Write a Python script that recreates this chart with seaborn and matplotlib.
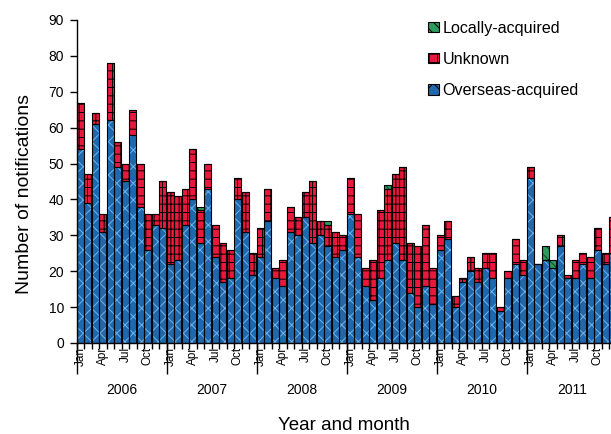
import numpy as np
import pandas as pd
import matplotlib
matplotlib.use("Agg")
import matplotlib.pyplot as plt
import seaborn as sns
from matplotlib.patches import Patch

# monthly notifications, Jan 2006 - Dec 2011
overseas = [54, 39, 61, 31, 62, 49, 45, 58, 38, 26, 33, 32,
            22, 23, 33, 40, 28, 43, 24, 17, 18, 40, 31, 19,
            24, 34, 18, 16, 31, 30, 35, 28, 30, 27, 24, 26,
            36, 24, 16, 12, 18, 23, 28, 23, 14, 10, 16, 11,
            26, 29, 10, 17, 20, 17, 21, 18, 9, 18, 22, 19,
            46, 22, 23, 21, 27, 18, 18, 22, 18, 26, 22, 25]
unknown = [13, 8, 3, 5, 16, 7, 5, 7, 12, 10, 3, 13,
           20, 18, 10, 14, 9, 7, 9, 11, 8, 6, 11, 6,
           8, 9, 3, 7, 7, 5, 7, 17, 4, 6, 7, 4,
           10, 12, 5, 11, 19, 20, 19, 26, 14, 17, 17, 10,
           4, 5, 3, 1, 4, 4, 4, 7, 1, 2, 7, 4,
           3, 0, 0, 0, 3, 1, 5, 3, 6, 6, 3, 10]
local = [0, 0, 0, 0, 0, 0, 0, 0, 0, 0, 0, 0,
         0, 0, 0, 0, 1, 0, 0, 0, 0, 0, 0, 0,
         0, 0, 0, 0, 0, 0, 0, 0, 0, 1, 0, 0,
         0, 0, 0, 0, 0, 1, 0, 0, 0, 0, 0, 0,
         0, 0, 0, 0, 0, 0, 0, 0, 0, 0, 0, 0,
         0, 0, 4, 2, 0, 0, 0, 0, 0, 0, 0, 0]
years = ['2006', '2007', '2008', '2009', '2010', '2011']
month_labels = ['Jan', 'Apr', 'Jul', 'Oct']

df = pd.DataFrame({'month': np.arange(len(overseas)),
                   'overseas': overseas, 'unknown': unknown, 'local': local})
df['bottom_unknown'] = df['overseas']
df['bottom_local'] = df['overseas'] + df['unknown']

blue, blue_hatch = '#1f68ad', '#6cb4ec'
red, red_hatch = '#e8193c', 'black'
green, green_hatch = '#2e9a5e', '#0d4a2a'

sns.set_style('white')
plt.rcParams['font.family'] = ['Liberation Sans', 'DejaVu Sans']
plt.rcParams['hatch.linewidth'] = 0.7
for k in ['text.color', 'axes.labelcolor', 'xtick.color', 'ytick.color']:
    plt.rcParams[k] = 'black'

fig = plt.figure(figsize=(6.11, 4.34), dpi=100)
ax = fig.add_axes([76.7 / 611, 91 / 434, 540 / 611, 323 / 434])

layers = [('overseas', None, blue, blue_hatch, 'xx'),
          ('unknown', 'bottom_unknown', red, red_hatch, '++'),
          ('local', 'bottom_local', green, green_hatch, '\\\\\\')]
w = 0.94
for col, bot, fc, hc, hatch in layers:
    bottom = 0 if bot is None else df[bot]
    # hatched fill (hatch takes the edge colour)
    sns.barplot(data=df, x='month', y=col, bottom=bottom, ax=ax, width=w,
                color=fc, saturation=1, errorbar=None, edgecolor=hc,
                linewidth=0, hatch=hatch, zorder=2)
    # black outline
    sns.barplot(data=df, x='month', y=col, bottom=bottom, ax=ax, width=w,
                color=fc, saturation=1, errorbar=None, facecolor='none',
                edgecolor='black', linewidth=0.8, zorder=3)

ax.set_xlim(-0.5, 71.5)
ax.set_ylim(0, 90)
ax.set_yticks(range(0, 91, 10))
sns.despine(ax=ax)
for s in ['left', 'bottom']:
    ax.spines[s].set_color('black')
    ax.spines[s].set_linewidth(1)

ticks = np.arange(0, 72, 3)
ax.set_xticks(ticks)
ax.set_xticklabels([month_labels[(t // 3) % 4] for t in ticks], rotation=90, fontsize=8.5)
ax.set_xticks(np.arange(-0.5, 72, 1), minor=True)
ax.tick_params(axis='x', which='major', length=0, pad=3)
ax.tick_params(axis='x', which='minor', length=4, width=1, color='black', direction='out')
ax.tick_params(axis='y', length=5, width=1, color='black', direction='out', labelsize=10, pad=4)
ax.tick_params(bottom=True, left=True, which='both')

# year separators and year labels
xt = ax.get_xaxis_transform()
ax.vlines(np.arange(-0.5, 72, 12), -0.095, 0, transform=xt, colors='black',
          linewidth=1, clip_on=False)
for i, yr in enumerate(years):
    ax.text(5.5 + 12 * i, -0.145, yr, transform=xt, ha='center', va='center', fontsize=10)

ax.set_xlabel('Year and month', fontsize=13.5)
ax.xaxis.set_label_coords(0.495, -0.23)
ax.set_ylabel('Number of notifications', fontsize=14)
ax.yaxis.set_label_coords(-0.08, 0.46)

handles = [Patch(facecolor=green, edgecolor='black', hatch='\\\\\\', linewidth=0.8),
           Patch(facecolor=red, edgecolor='black', hatch='++', linewidth=0.8),
           Patch(facecolor=blue, edgecolor='black', hatch='xx', linewidth=0.8)]
fig.legend(handles, ['Locally-acquired', 'Unknown', 'Overseas-acquired'],
           loc='upper left', bbox_to_anchor=(0.677, 0.986), frameon=False,
           fontsize=11.6, handlelength=0.65, handleheight=0.65, handletextpad=0.25,
           labelspacing=1.0)

fig.savefig('out.png', dpi=100)
